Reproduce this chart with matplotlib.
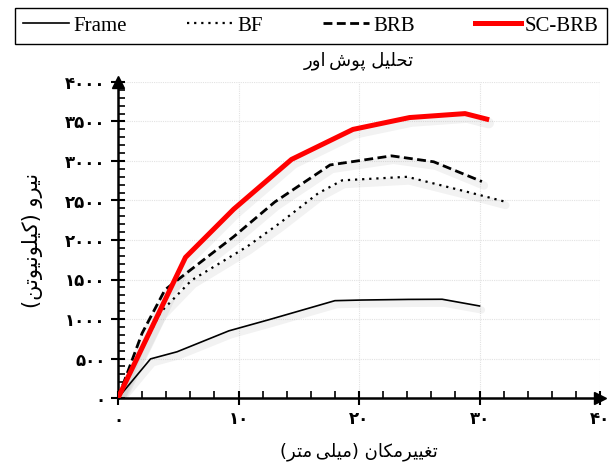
import matplotlib
matplotlib.use("Agg")
import matplotlib.pyplot as plt
import matplotlib.transforms as mtransforms
from matplotlib.ticker import MultipleLocator, FuncFormatter

# pushover curves: displacement (mm) vs force (kN)
frame_x = [0, 2.7, 4.9, 9.2, 12.5, 18.0, 20.2, 24.1, 26.9, 30.0]
frame_y = [0, 495, 585, 850, 990, 1232, 1240, 1248, 1250, 1165]

bf_x = [0, 3.5, 6.1, 10.7, 13.4, 16.6, 18.6, 24.0, 30.0, 32.0]
bf_y = [0, 1080, 1490, 1915, 2211, 2590, 2755, 2800, 2570, 2490]

brb_x = [0, 2.0, 3.9, 5.5, 9.6, 13.0, 17.6, 22.7, 26.2, 30.2]
brb_y = [0, 820, 1370, 1560, 2042, 2480, 2950, 3065, 2990, 2740]

scbrb_x = [0, 5.6, 9.6, 14.4, 19.5, 24.2, 28.8, 30.6]
scbrb_y = [0, 1780, 2390, 3020, 3400, 3550, 3600, 3530]

labels = ["Frame", "BF", "BRB", "SC-BRB"]

title_txt = "تحلیل پوش\u200cاور"
xlabel_txt = "تغییرمکان (میلی\u200cمتر)"
ylabel_txt = "نیرو (کیلونیوتن)"

# contextual forms (isolated, final, initial, medial) since matplotlib does no arabic shaping
DUAL = {
    'ت': '\ufe95\ufe96\ufe97\ufe98',
    'ح': '\ufea1\ufea2\ufea3\ufea4',
    'ل': '\ufedd\ufede\ufedf\ufee0',
    'ی': '\ufbfc\ufbfd\ufbfe\ufbff',
    'پ': '\ufb56\ufb57\ufb58\ufb59',
    'ش': '\ufeb5\ufeb6\ufeb7\ufeb8',
    'ن': '\ufee5\ufee6\ufee7\ufee8',
    'ک': '\ufb8e\ufb8f\ufb90\ufb91',
    'غ': '\ufecd\ufece\ufecf\ufed0',
    'م': '\ufee1\ufee2\ufee3\ufee4',
}
RIGHT = {
    'و': '\ufeed\ufeee',
    'ا': '\ufe8d\ufe8e',
    'ر': '\ufead\ufeae',
}
MIRROR = {'(': ')', ')': '('}


def shape(s):
    out = []
    for i, c in enumerate(s):
        prev = s[i - 1] if i > 0 else ''
        nxt = s[i + 1] if i + 1 < len(s) else ''
        jp = prev in DUAL
        if c in DUAL:
            jn = nxt in DUAL or nxt in RIGHT
            idx = 3 if (jp and jn) else 1 if jp else 2 if jn else 0
            out.append(DUAL[c][idx])
        elif c in RIGHT:
            out.append(RIGHT[c][1 if jp else 0])
        elif c == '\u200c':
            out.append('\u2009')
        else:
            out.append(MIRROR.get(c, c))
    return ''.join(reversed(out))


def fa_digits(v, pos=None):
    return str(int(round(v))).translate(str.maketrans("0123456789", "۰۱۲۳۴۵۶۷۸۹"))


fig = plt.figure(figsize=(6.14, 4.68), dpi=100)
ax = fig.add_axes([118 / 614, 70 / 468, 482 / 614, 316 / 468])

series = [
    (frame_x, frame_y, dict(color="black", lw=1.2, ls="-")),
    (bf_x, bf_y, dict(color="black", lw=1.6, ls=(0, (1, 2.2)))),
    (brb_x, brb_y, dict(color="black", lw=2.0, ls=(0, (3.2, 1.6)))),
    (scbrb_x, scbrb_y, dict(color="#ff0000", lw=3.6, ls="-")),
]

shadow = mtransforms.offset_copy(ax.transData, fig=fig, x=2, y=-4, units="dots")
for xs, ys, st in series:
    ax.plot(xs, ys, color="0.5", lw=st["lw"] + 4, alpha=0.10, transform=shadow,
            solid_capstyle="round", zorder=1)
handles = []
for (xs, ys, st), lab in zip(series, labels):
    h, = ax.plot(xs, ys, label=lab, zorder=3, **st)
    handles.append(h)

ax.set_xlim(0, 40)
ax.set_ylim(0, 4000)
ax.xaxis.set_major_locator(MultipleLocator(10))
ax.xaxis.set_minor_locator(MultipleLocator(2))
ax.yaxis.set_major_locator(MultipleLocator(500))
ax.yaxis.set_minor_locator(MultipleLocator(100))
ax.xaxis.set_major_formatter(FuncFormatter(fa_digits))
ax.yaxis.set_major_formatter(FuncFormatter(fa_digits))

ax.grid(True, which="major", color="#e2e2e2", ls=(0, (1, 1)), lw=0.8)
ax.set_axisbelow(True)
for s in ["top", "right"]:
    ax.spines[s].set_visible(False)
for s in ["left", "bottom"]:
    ax.spines[s].set_linewidth(1.8)
ax.tick_params(which="major", direction="inout", length=10, width=1.5, labelsize=12, pad=4)
ax.tick_params(which="minor", direction="in", length=5, width=1.2)
for t in ax.get_xticklabels() + ax.get_yticklabels():
    t.set_fontfamily("DejaVu Sans")
    t.set_fontweight("bold")

# arrow heads on the axes
ax.plot(1, 0, ">k", ms=9, transform=ax.transAxes, clip_on=False)
ax.plot(0, 1, "^k", ms=9, transform=ax.transAxes, clip_on=False)

ax.set_title(shape(title_txt), fontfamily="DejaVu Sans", fontsize=13, pad=12)
ax.set_xlabel(shape(xlabel_txt), fontfamily="DejaVu Sans", fontsize=13, labelpad=10)
ax.set_ylabel(shape(ylabel_txt), fontfamily="DejaVu Sans", fontsize=15, labelpad=16)

leg = fig.legend(handles=handles, loc="lower left", ncol=4, mode="expand",
                 bbox_to_anchor=(15 / 614, 424 / 468, 592 / 614, 32 / 468),
                 borderaxespad=0, handlelength=2.2, handletextpad=0.2,
                 fancybox=False, framealpha=1, edgecolor="black",
                 prop={"family": "Liberation Serif", "size": 15})
leg.get_frame().set_linewidth(1.0)

fig.savefig("out.png", dpi=100)
